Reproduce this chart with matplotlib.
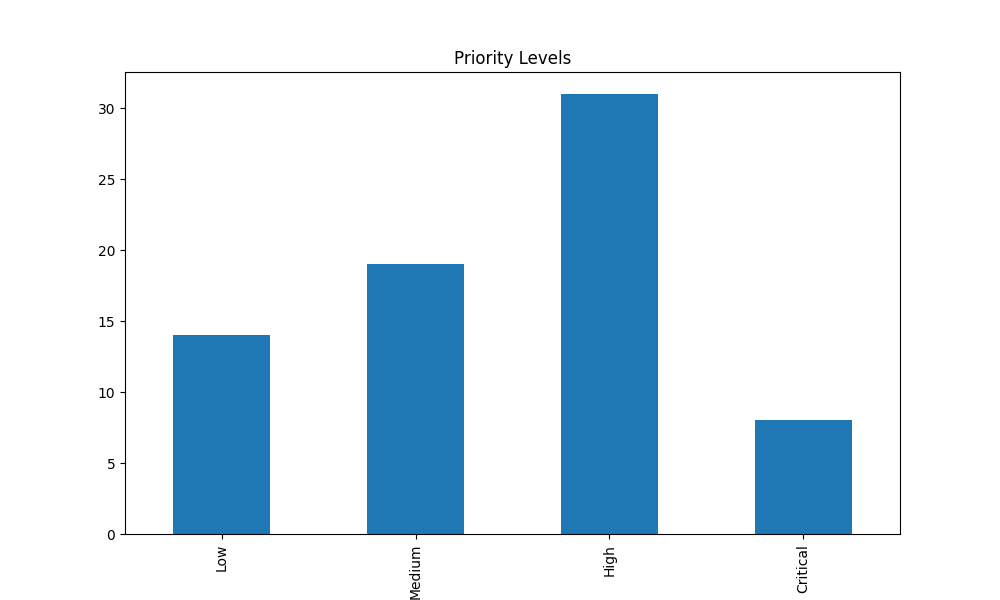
import matplotlib
matplotlib.use('Agg')
import matplotlib.pyplot as plt
import numpy as np

categories = ["Low", "Medium", "High", "Critical"]
counts = [14, 19, 31, 8]

fig, ax = plt.subplots(figsize=(10, 6), dpi=100)
x = np.arange(len(categories))
ax.bar(x, counts, width=0.5, color="#1f77b4")
ax.set_xticks(x)
ax.set_xticklabels(categories, rotation=90)
ax.set_xlim(-0.5, len(categories) - 0.5)
ax.set_title("Priority Levels")

plt.savefig("out.png", dpi=100)
